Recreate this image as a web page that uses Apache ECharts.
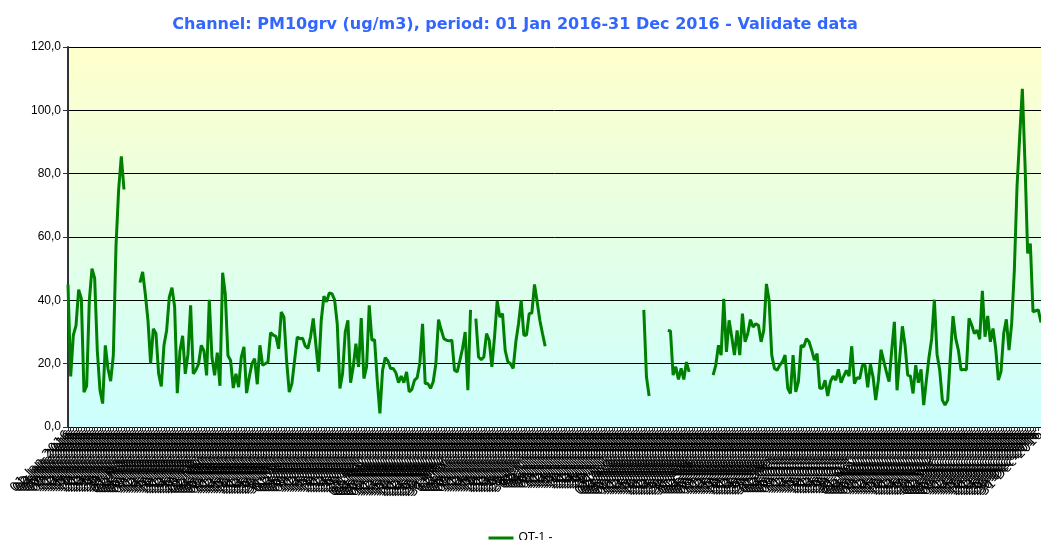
<!DOCTYPE html>
<html>
<head>
<meta charset="utf-8">
<script src="https://cdn.jsdelivr.net/npm/echarts@6/dist/echarts.min.js"></script>
<style>
  html, body { margin: 0; padding: 0; background: #fff; }
  #chart { width: 1041px; height: 540px; }
</style>
</head>
<body>
<div id="chart"></div>
<script>
// PM10 daily values (ug/m3), 01 Jan 2016 .. 31 Dec 2016, null = no data
var pm10 = [
  45, 16, 29, 32, 43.4, 40.5, 11, 13, 40, 50,
  47, 24, 11.6, 7.4, 25.8, 18.4, 14.5, 22.6, 57, 75,
  85.5, 75, null, null, null, null, null, 45.6, 49, 42,
  33.7, 20, 31, 29.5, 16.8, 12.8, 25.8, 30.5, 41, 44,
  38, 10.7, 24, 28.8, 16.8, 23, 38.4, 16.8, 18, 20,
  25.8, 24, 16.3, 40.2, 22, 16.3, 23.5, 13, 48.7, 42,
  22.6, 21, 12.3, 16.8, 12.6, 22, 25.3, 10.7, 15.8, 20,
  21.6, 13.5, 25.8, 19.5, 20, 20.5, 29.8, 29, 28.6, 24.7,
  36.3, 34.7, 21, 11, 13.7, 21, 28.4, 27.9, 28, 25.6,
  24.8, 28.5, 34.3, 25.9, 17.5, 33.7, 41.3, 39.5, 42.3, 42.1,
  40.2, 32.6, 12.2, 16.9, 30, 33.7, 14, 19, 26.3, 19,
  34.4, 15.3, 19, 38.4, 27.4, 27.6, 14.8, 4.3, 17.9, 21.9,
  20.9, 18.5, 18.5, 17.1, 14, 16.1, 14, 17.4, 11.1, 11.9,
  14.8, 15.6, 20.3, 32.6, 13.7, 13.7, 12.2, 14.3, 20, 33.9,
  30.7, 27.9, 27.4, 27.2, 27.4, 17.9, 17.4, 21, 24.8, 30,
  11.6, 37, null, 34.2, 22.1, 21.3, 22.1, 29.5, 27.4, 19,
  28.4, 39.8, 34.7, 35.8, 24.2, 20.6, 20, 18.5, 26.9, 32.6,
  40, 29, 29, 35.8, 36, 45, 39.5, 33.7, 29.5, 25.5,
  null, null, null, null, null, null, null, null, null, null,
  null, null, null, null, null, null, null, null, null, null,
  null, null, null, null, null, null, null, null, null, null,
  null, null, null, null, null, null, 37, 15.8, 9.8, null,
  null, null, null, null, null, 30.5, 30.3, 16.4, 19, 15,
  18.5, 15, 20.5, 17.4, null, null, null, null, null, null,
  null, null, 16.4, 19.5, 25.8, 22.7, 40.5, 23.7, 33.7, 28.4,
  22.7, 30.5, 22.7, 35.8, 26.9, 29.5, 33.9, 31.6, 32.6, 32.1,
  26.9, 30.5, 45.2, 40, 22.7, 18.5, 17.9, 19.5, 20.6, 22.7,
  12.2, 10.6, 22.7, 11.1, 14.3, 25.8, 25.3, 27.9, 26.9, 24.2,
  21.1, 23.2, 12.2, 12.2, 14.8, 9.8, 14.3, 16.1, 14.8, 18.2,
  14, 16.1, 17.9, 16.1, 25.5, 13.7, 15.6, 15.3, 19.5, 19.5,
  12.5, 19.8, 15.8, 8.5, 14.8, 24.4, 20.9, 17.4, 14.3, 24.2,
  33.2, 11.6, 21.9, 31.8, 25.8, 16.4, 16.1, 10.6, 19.5, 14,
  18.2, 6.9, 14.8, 22.1, 27.9, 40.2, 23, 18, 8.5, 6.9,
  8.5, 22.2, 35, 28, 24.3, 18, 18.2, 18, 34.3, 32.2,
  29.5, 30.6, 27.7, 43, 28.5, 35.1, 26.9, 31.1, 24.8, 14.8,
  17.5, 29.5, 34, 24.3, 32.7, 49.5, 75.8, 91.6, 106.8, 83.2,
  54.8, 57.9, 36.4, 36.7, 37, 33
];

// one category per day of 2016
var monthNames = ["Jan", "Feb", "Mar", "Apr", "May", "Jun", "Jul", "Aug", "Sep", "Oct", "Nov", "Dec"];
var days = [];
for (var d = new Date(Date.UTC(2016, 0, 1)); d.getUTCFullYear() === 2016; d.setUTCDate(d.getUTCDate() + 1)) {
  var dd = ("0" + d.getUTCDate()).slice(-2);
  days.push(dd + "-" + monthNames[d.getUTCMonth()] + "-2016");
}

var seriesName = "OT-1 -";
var titleText = "Channel: PM10grv (ug/m3), period: 01 Jan 2016-31 Dec 2016 - Validate data";

var chart = echarts.init(document.getElementById("chart"));
chart.setOption({
  animation: false,
  title: {
    text: titleText,
    left: 510,
    textAlign: "center",
    top: 12,
    textStyle: {
      color: "#3366ff",
      fontFamily: "DejaVu Sans",
      fontWeight: "bold",
      fontSize: 16
    }
  },
  legend: {
    data: [seriesName],
    left: "center",
    top: 527,
    icon: "rect",
    itemWidth: 25,
    itemHeight: 3,
    itemGap: 4,
    textStyle: { color: "#000", fontFamily: "Liberation Sans", fontSize: 12 }
  },
  grid: {
    left: 68,
    top: 47,
    right: 0,
    bottom: 113,
    outerBoundsMode: "none",
    show: true,
    borderWidth: 0,
    backgroundColor: {
      type: "linear", x: 0, y: 0, x2: 0, y2: 1,
      colorStops: [
        { offset: 0, color: "#ffffcc" },
        { offset: 1, color: "#ccffff" }
      ]
    }
  },
  xAxis: {
    type: "category",
    data: days,
    boundaryGap: false,
    axisLine: { show: true, lineStyle: { color: "#000", width: 1 } },
    axisTick: { show: true, interval: 0, length: 4, lineStyle: { color: "#333" } },
    axisLabel: {
      interval: 0,
      rotate: 46,
      margin: 6,
      hideOverlap: false,
      color: "#000",
      fontFamily: "DejaVu Sans",
      fontSize: 13
    },
    splitLine: { show: false }
  },
  yAxis: {
    type: "value",
    min: 0,
    max: 120,
    interval: 20,
    axisLine: { show: true, lineStyle: { color: "#333", width: 2 } },
    axisTick: { show: true, length: 5, lineStyle: { color: "#333" } },
    axisLabel: {
      color: "#000",
      fontFamily: "Liberation Sans",
      fontSize: 12,
      margin: 7,
      formatter: function (v) { return v.toFixed(1).replace(".", ","); }
    },
    splitLine: { show: true, lineStyle: { color: "#000", width: 1 } }
  },
  series: [
    {
      name: seriesName,
      type: "line",
      data: pm10,
      showSymbol: false,
      symbol: "none",
      connectNulls: false,
      itemStyle: { color: "#008000" },
      lineStyle: { color: "#008000", width: 3 }
    }
  ]
});
</script>
</body>
</html>
